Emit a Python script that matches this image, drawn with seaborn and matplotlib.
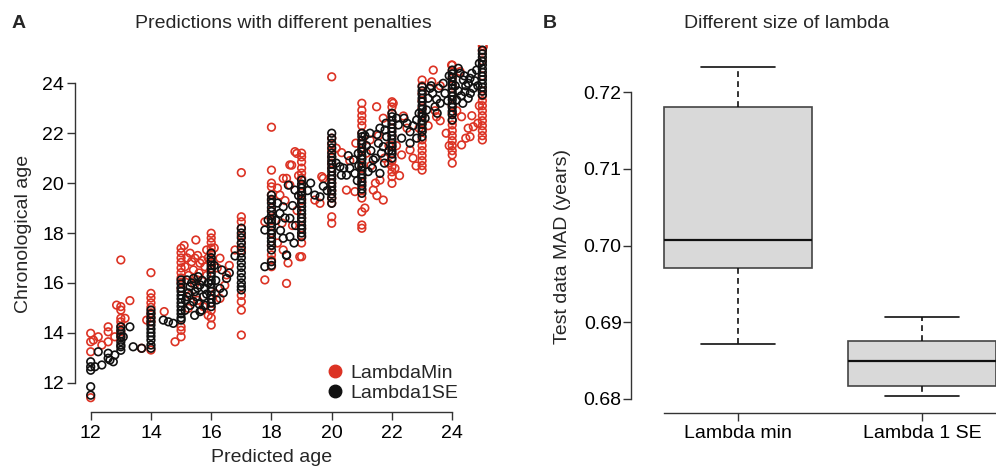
import matplotlib
matplotlib.use("Agg")
import matplotlib.pyplot as plt
import pandas as pd
import seaborn as sns
from matplotlib.lines import Line2D

# ---------------- Panel A data ----------------
col_x = [12, 13, 14, 15, 16, 17, 18, 19, 20, 21, 22, 23, 24, 25]

min_col_y = [
    [13.98, 13.64, 13.24, 11.4],
    [16.92, 15.05, 14.91, 14.58, 14.44, 14.24, 14.04, 13.84],
    [16.41, 15.58, 15.4, 15.2, 15.02, 14.8, 14.61, 14.44, 13.31],
    [17.39, 17.21, 17.0, 16.82, 16.6, 16.41, 16.2, 16.02, 15.78, 14.24, 14.1, 13.84],
    [17.99, 17.8, 17.62, 17.4, 17.22, 17.0, 16.81, 16.6, 15.2, 14.9, 14.6, 14.31],
    [20.42, 18.65, 18.45, 18.19, 17.9, 17.6, 17.3, 15.5, 15.25, 14.91, 13.91],
    [22.24, 20.52, 20.0, 19.85, 19.52, 19.3, 18.9, 18.5, 18.0, 17.5, 17.12, 16.92, 16.65],
    [21.2, 21.05, 20.85, 20.6, 20.4, 20.2, 19.9, 19.6, 19.3, 18.6, 18.2, 17.9, 17.6, 17.05],
    [24.26, 21.8, 21.55, 21.3, 21.05, 20.8, 20.6, 20.3, 20.0, 19.7, 19.4, 19.2, 18.65, 18.39],
    [23.2, 22.92, 22.7, 22.5, 22.3, 22.0, 21.6, 21.3, 21.0, 20.6, 20.3, 20.0, 19.7, 19.4,
     18.85, 18.32, 18.19],
    [23.26, 23.05, 22.8, 22.5, 22.2, 21.9, 21.5, 21.2, 20.9, 20.66, 20.45, 20.26, 19.99],
    [24.13, 23.9, 23.6, 23.3, 23.0, 22.7, 22.4, 22.1, 21.73, 21.5, 21.3, 21.1, 20.9, 20.7, 20.52],
    [24.73, 24.5, 24.2, 23.9, 23.5, 23.1, 22.8, 22.5, 22.33, 22.1, 21.9, 21.7, 21.5, 21.3,
     21.13, 20.8],
    [25.5, 25.3, 24.9, 24.3, 23.7, 23.5, 23.3, 23.1, 22.9, 22.7, 22.5, 22.3, 22.1, 21.9, 21.73],
]

min_extra = [
    (12.09, 13.71), (12.25, 13.84), (12.37, 13.51), (12.58, 14.24), (12.58, 14.04),
    (12.58, 13.64), (12.8, 13.84), (12.86, 15.11), (13.14, 14.58), (13.3, 15.29),
    (13.86, 14.51), (13.69, 13.38), (14.44, 14.85), (14.8, 13.64), (15.3, 17.19),
    (15.46, 16.99), (15.63, 16.79), (15.41, 16.52), (15.79, 16.65), (15.13, 16.65),
    (15.52, 16.12), (15.74, 15.05), (15.24, 14.98), (15.85, 17.32), (15.49, 17.72),
    (16.29, 16.99), (16.51, 16.32), (16.29, 15.38), (16.13, 15.58), (16.79, 17.32),
    (17.78, 16.12), (17.78, 18.45), (18.5, 15.98), (18.28, 19.52), (18.5, 20.19),
    (18.61, 19.92), (18.39, 17.32), (18.78, 21.26), (18.67, 20.72), (18.39, 20.19),
    (18.61, 20.73), (18.84, 21.19), (19.72, 20.19), (19.61, 19.19), (19.44, 19.32),
    (18.94, 17.05), (19.67, 20.26), (20.49, 19.72), (20.77, 19.66), (20.33, 21.22),
    (20.8, 21.6), (21.27, 21.73), (21.38, 19.72), (21.71, 19.32), (21.6, 20.12),
    (21.88, 20.8), (21.49, 23.06), (21.71, 22.6), (22.04, 23.2), (22.38, 22.69),
    (22.6, 21.33), (22.8, 20.69), (22.32, 21.13), (22.1, 20.59), (23.32, 24.06),
    (23.37, 24.53), (23.48, 22.66), (23.43, 22.9), (23.98, 24.73), (24.26, 24.47),
    (24.31, 22.66), (24.53, 22.2), (24.7, 22.26), (24.59, 21.86), (24.31, 21.53),
    (25.03, 25.47),
    (15.2, 17.0), (15.35, 16.85), (15.55, 17.1), (15.7, 16.9), (15.9, 17.0),
    (15.6, 16.4), (15.25, 16.3), (15.45, 15.95), (15.85, 16.3), (15.1, 17.5),
    (15.3, 15.5), (15.55, 15.3), (15.9, 14.7), (16.1, 17.4), (16.2, 16.6),
    (16.45, 15.9), (16.6, 16.7), (18.2, 19.8), (18.35, 18.4), (18.45, 19.3),
    (18.7, 18.3), (18.85, 18.9), (18.9, 20.3), (18.2, 17.6), (18.55, 16.8),
    (21.15, 21.2), (21.3, 20.7), (21.45, 20.0), (21.55, 21.9), (21.75, 21.0),
    (21.9, 21.5), (21.1, 19.0), (21.5, 19.5), (20.6, 20.9), (20.15, 21.4),
    (22.15, 21.5), (22.5, 22.2), (22.7, 21.0), (22.9, 22.2), (22.25, 20.3),
    (23.2, 22.3), (23.6, 22.5), (23.8, 22.0), (24.15, 22.9), (24.45, 21.8),
    (24.65, 22.7), (24.85, 22.4), (24.9, 23.1), (23.9, 21.5), (23.6, 23.9),
]

se_col_y = [
    [12.84, 12.64, 12.5, 11.84, 11.5],
    [14.24, 14.1, 13.95, 13.84, 13.65, 13.51, 13.44, 13.3],
    [14.91, 14.76, 14.6, 14.45, 14.31, 14.15, 14.0, 13.86, 13.71, 13.51, 13.38],
    [16.12, 15.96, 15.8, 15.66, 15.5, 15.36, 15.2, 15.06, 14.9, 14.76, 14.6, 14.51],
    [17.19, 17.01, 16.86, 16.7, 16.56, 16.4, 16.26, 16.1, 15.96, 15.8, 15.66, 15.5, 15.36,
     15.2, 15.05],
    [18.19, 18.0, 17.81, 17.6, 17.42, 17.2, 17.01, 16.8, 16.62, 16.4, 16.21, 16.0, 15.85, 15.72],
    [19.52, 19.35, 19.2, 19.02, 18.86, 18.7, 18.55, 18.4, 18.26, 18.1, 17.96, 17.8, 17.66,
     17.5, 17.32, 16.85, 16.7],
    [20.12, 19.96, 19.8, 19.66, 19.5, 19.36, 19.2, 19.06, 18.9, 18.76, 18.6, 18.46, 18.3,
     18.16, 18.0, 17.85],
    [22.0, 21.8, 21.6, 21.41, 21.2, 21.05, 20.9, 20.76, 20.6, 20.46, 20.3, 20.16, 20.0,
     19.86, 19.7, 19.56, 19.4, 19.19],
    [22.0, 21.86, 21.7, 21.56, 21.4, 21.26, 21.1, 20.96, 20.8, 20.66, 20.5, 20.36, 20.2,
     20.06, 19.9, 19.76, 19.59],
    [22.8, 22.66, 22.5, 22.36, 22.2, 22.06, 21.9, 21.76, 21.6, 21.46, 21.3, 21.16, 21.0],
    [23.86, 23.7, 23.56, 23.4, 23.26, 23.1, 22.96, 22.8, 22.66, 22.5, 22.36, 22.2, 22.06, 21.86],
    [24.53, 24.38, 24.24, 24.08, 23.94, 23.78, 23.64, 23.48, 23.34, 23.18, 23.04, 22.88,
     22.74, 22.53],
    [25.33, 25.18, 25.04, 24.88, 24.74, 24.58, 24.44, 24.28, 24.14, 23.98, 23.84, 23.68, 23.53],
]

se_extra = [
    (12.25, 13.24), (12.37, 12.71), (12.14, 12.64), (12.58, 13.18), (12.58, 12.98),
    (12.64, 12.91), (12.75, 12.84), (12.8, 13.11), (13.08, 13.84), (13.3, 14.24),
    (13.41, 13.44), (13.69, 13.38), (14.41, 14.51), (14.58, 14.44), (14.74, 14.38),
    (15.19, 16.12), (15.41, 16.18), (15.57, 16.25), (15.3, 15.85), (15.63, 15.92),
    (15.46, 15.65), (15.19, 15.45), (15.74, 15.45), (15.41, 15.25), (15.63, 14.85),
    (15.13, 14.9), (15.79, 15.78), (15.3, 15.1), (15.68, 14.91), (16.29, 15.78),
    (16.51, 16.18), (16.35, 16.52), (16.79, 17.08), (16.18, 15.32), (17.78, 18.12),
    (17.78, 16.65), (17.89, 18.52), (18.5, 17.1), (18.28, 18.79), (18.61, 18.59),
    (18.61, 17.85), (18.39, 17.79), (18.5, 17.12), (18.56, 19.92), (18.78, 19.72),
    (19.44, 19.52), (19.61, 19.45), (19.72, 19.88), (18.39, 19.05), (20.27, 20.66),
    (20.32, 20.32), (20.49, 20.32), (20.77, 20.39), (20.72, 20.93), (20.88, 21.19),
    (21.27, 22.0), (21.55, 21.6), (21.71, 21.46), (21.82, 21.86), (21.38, 20.93),
    (21.6, 20.39), (21.21, 20.46), (22.21, 22.33), (22.4, 22.6), (22.6, 22.06),
    (22.82, 22.53), (22.82, 21.8), (22.32, 21.8), (21.77, 22.13), (23.26, 23.8),
    (23.3, 23.9), (23.43, 23.06), (23.48, 23.36), (23.15, 22.93), (23.76, 23.6),
    (24.26, 24.4), (24.37, 24.13), (24.53, 24.0), (24.59, 24.2), (24.42, 23.66),
    (24.7, 23.8), (24.81, 24.53), (24.53, 23.4), (24.15, 23.33), (24.3, 23.5),
    (15.25, 15.6), (15.35, 16.0), (15.5, 15.45), (15.55, 15.8), (15.7, 16.1),
    (15.85, 15.55), (15.9, 16.0), (15.15, 15.3), (15.45, 14.7), (15.6, 15.15),
    (15.8, 15.1), (16.1, 16.7), (16.15, 16.1), (16.4, 15.6), (16.6, 16.4),
    (18.15, 18.5), (18.3, 18.1), (18.45, 18.6), (18.7, 19.1), (18.8, 18.3),
    (18.9, 19.5), (18.2, 19.2), (18.75, 17.6), (19.2, 19.7), (19.3, 20.0),
    (19.85, 19.7), (20.15, 20.8), (20.4, 20.6), (20.6, 20.6), (20.55, 21.1),
    (20.9, 20.7), (20.85, 20.1), (21.15, 21.5), (21.3, 21.3), (21.45, 21.0),
    (21.5, 21.95), (21.65, 21.2), (21.75, 20.8), (21.9, 21.3), (21.35, 20.6),
    (21.6, 22.2), (21.1, 21.9), (21.8, 22.4), (22.15, 22.6), (22.5, 22.4),
    (22.7, 22.3), (22.9, 22.8), (22.6, 21.6), (23.2, 23.4), (23.35, 23.6),
    (23.55, 23.8), (23.6, 23.2), (23.7, 24.0), (23.85, 23.3), (23.9, 24.3),
    (23.1, 22.6), (23.5, 22.8), (24.1, 23.9), (24.2, 24.6), (24.4, 24.3),
    (24.45, 23.9), (24.6, 23.6), (24.65, 24.4), (24.75, 24.1), (24.85, 23.9),
    (24.9, 24.8), (24.35, 23.2), (24.2, 23.7),
]

# ---------------- Panel B data ----------------
box_groups = ["Lambda min", "Lambda 1 SE"]
mad_lambda_min = [0.68721, 0.69705, 0.70074, 0.71808, 0.72334]
mad_lambda_1se = [0.68035, 0.68173, 0.68496, 0.68756, 0.69069]

a_xticks = [12, 14, 16, 18, 20, 22, 24]
a_yticks = [12, 14, 16, 18, 20, 22, 24]
b_yticks = [0.68, 0.69, 0.70, 0.71, 0.72]


def build(cols, col_y, extra):
    xs, ys = [], []
    for c, yl in zip(cols, col_y):
        xs += [c] * len(yl)
        ys += yl
    for x, y in extra:
        xs.append(x)
        ys.append(y)
    return pd.DataFrame({"pred": xs, "chron": ys})


df_min = build(col_x, min_col_y, min_extra)
df_se = build(col_x, se_col_y, se_extra)
df_box = pd.DataFrame({
    "method": [box_groups[0]] * len(mad_lambda_min) + [box_groups[1]] * len(mad_lambda_1se),
    "mad": mad_lambda_min + mad_lambda_1se,
})

RED = "#DC3324"
BLACK = "#111111"
AXC = "#333333"

sns.set_theme(style="ticks")
plt.rcParams["font.family"] = ["Liberation Sans", "DejaVu Sans"]
plt.rcParams["font.size"] = 14

W, H = 996, 470
fig = plt.figure(figsize=(W / 100, H / 100), dpi=100)
axA = fig.add_axes([75 / W, 1 - 412.3 / H, 417 / W, (412.3 - 45) / H])
axB = fig.add_axes([631 / W, 1 - 412.7 / H, 365 / W, (412.7 - 45) / H])

# ---------------- Panel A ----------------
sns.scatterplot(data=df_min, x="pred", y="chron", ax=axA, marker="o", s=30,
                facecolor="none", edgecolor=RED, linewidth=1.2, legend=False, zorder=2)
sns.scatterplot(data=df_se, x="pred", y="chron", ax=axA, marker="o", s=30,
                facecolor="none", edgecolor=BLACK, linewidth=1.2, legend=False, zorder=3)
axA.set_xlim(11.479, 25.32)
axA.set_ylim(10.814, 25.535)
axA.set_xticks(a_xticks)
axA.set_yticks(a_yticks)
for s in ["top", "right"]:
    axA.spines[s].set_visible(False)
axA.spines["left"].set_bounds(12, 24)
axA.spines["bottom"].set_bounds(12, 24)
for s in ["left", "bottom"]:
    axA.spines[s].set_color(AXC)
    axA.spines[s].set_linewidth(1.0)
axA.tick_params(axis="both", length=5.5, width=1.0, color=AXC, labelsize=14,
                labelcolor="black")
axA.tick_params(axis="y", pad=2.5)
axA.tick_params(axis="x", pad=3.5)
axA.set_xlabel("Predicted age", fontsize=14)
axA.set_ylabel("Chronological age", fontsize=14)
axA.xaxis.label.set_va("center")
axA.yaxis.label.set_va("center")
axA.xaxis.set_label_coords((271.7 - 75) / 417, (412.3 - 458) / 367.3)
axA.yaxis.set_label_coords((24 - 75) / 417, (412.3 - 234) / 367.3)

handles = [
    Line2D([0], [0], marker="o", color="none", markerfacecolor=RED, markeredgecolor=RED,
           markersize=9, label="LambdaMin"),
    Line2D([0], [0], marker="o", color="none", markerfacecolor=BLACK,
           markeredgecolor=BLACK, markersize=9, label="Lambda1SE"),
]
axA.legend(handles=handles, loc="center left", bbox_to_anchor=(327 / W, 1 - 383 / H),
           bbox_transform=fig.transFigure, frameon=False, handlelength=0.8,
           handletextpad=0.4, borderpad=0, borderaxespad=0, labelspacing=0.15,
           fontsize=14)

# ---------------- Panel B ----------------
sns.boxplot(data=df_box, x="method", y="mad", ax=axB, order=box_groups, width=0.8,
            color="#D9D9D9", saturation=1, linecolor="#2a2a2a", linewidth=1.2,
            showfliers=False, whis=1.5,
            whiskerprops=dict(linestyle=(0, (3.5, 2.5)), color="#111111"),
            capprops=dict(color="#111111"),
            medianprops=dict(color="#111111", linewidth=1.6),
            boxprops=dict(edgecolor="#444444"))
axB.set_xlim(-0.5815, 1.402)
axB.set_ylim(0.678213, 0.726169)
axB.set_yticks(b_yticks)
axB.set_yticklabels([f"{v:.2f}" for v in b_yticks])
for s in ["top", "right"]:
    axB.spines[s].set_visible(False)
axB.spines["left"].set_bounds(0.68, 0.72)
axB.spines["bottom"].set_bounds(-0.4, 1.402)
for s in ["left", "bottom"]:
    axB.spines[s].set_color(AXC)
    axB.spines[s].set_linewidth(1.0)
axB.tick_params(axis="both", length=5.5, width=1.0, color=AXC, labelsize=14,
                labelcolor="black")
axB.tick_params(axis="y", pad=1.2)
axB.tick_params(axis="x", pad=3.5)
axB.set_xlabel("")
axB.set_ylabel("Test data MAD (years)", fontsize=14)
axB.yaxis.label.set_va("center")
axB.yaxis.set_label_coords((562 - 631) / 365, (412.7 - 247) / 367.7)

# ---------------- Titles and panel letters ----------------
fig.text(283 / W, 1 - 24 / H, "Predictions with different penalties", ha="center",
         va="center", fontsize=14)
fig.text(787 / W, 1 - 24 / H, "Different size of lambda", ha="center", va="center",
         fontsize=14)
fig.text(12 / W, 1 - 24 / H, "A", ha="left", va="center", fontsize=14, fontweight="bold")
fig.text(543 / W, 1 - 24 / H, "B", ha="left", va="center", fontsize=14, fontweight="bold")

fig.savefig("out.png", dpi=100)
